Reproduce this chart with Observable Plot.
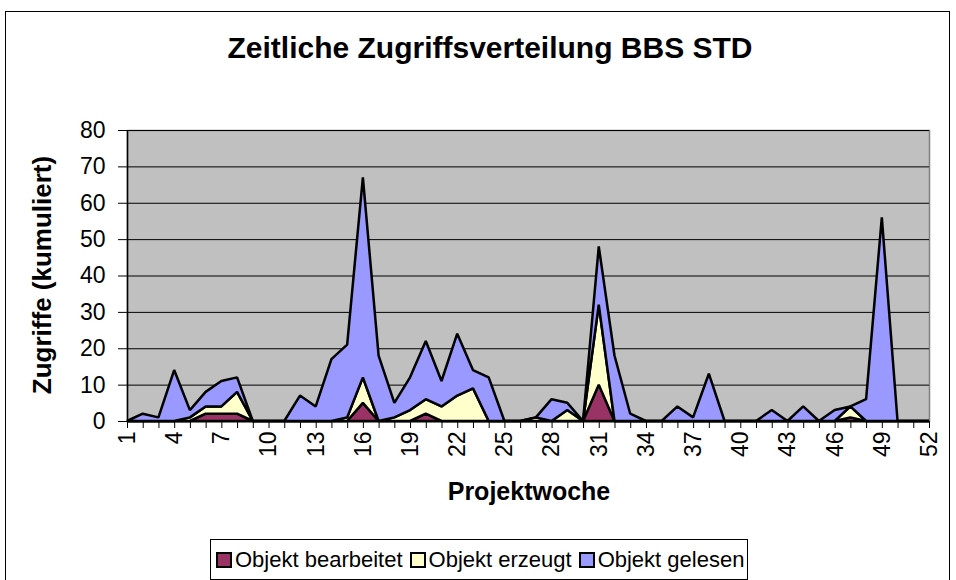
<!DOCTYPE html>
<html>
<head>
<meta charset="utf-8">
<script src="https://cdn.jsdelivr.net/npm/d3@7"></script>
<script src="https://cdn.jsdelivr.net/npm/@observablehq/plot@0.6"></script>
<style>
  html, body { margin: 0; padding: 0; background: #fff; }
  #chart { position: relative; width: 956px; height: 580px; overflow: hidden; font-family: "Liberation Sans", Arial, sans-serif; }
  #border { position: absolute; left: 5px; top: 11px; width: 945px; height: 600px; border: 1px solid #000; box-sizing: border-box; }
  #plot { position: absolute; left: 0; top: 0; }
  .title { position: absolute; left: 490px; top: 31px; transform: translateX(-50%); font-weight: bold; font-size: 30px; line-height: normal; white-space: nowrap; }
  .xtitle { position: absolute; left: 529px; top: 477px; transform: translateX(-50%); font-weight: bold; font-size: 25px; white-space: nowrap; }
  .ytitle { position: absolute; left: 42px; top: 275px; transform: translate(-50%, -50%) rotate(-90deg); font-weight: bold; font-size: 26px; white-space: nowrap; }
  #legend { position: absolute; left: 210px; top: 539px; width: 538px; height: 41px; border: 1px solid #000; box-sizing: border-box; display: flex; align-items: center; padding-left: 5px; font-size: 22px; white-space: nowrap; }
  .item { display: flex; align-items: center; margin-right: 7px; }
  .sw { width: 12px; height: 12px; border: 2px solid #000; margin-right: 3px; }
</style>
</head>
<body>
<div id="chart">
  <div id="border"></div>
  <div id="plot"></div>
  <div class="title">Zeitliche Zugriffsverteilung BBS STD</div>
  <div class="xtitle">Projektwoche</div>
  <div class="ytitle">Zugriffe (kumuliert)</div>
  <div id="legend"></div>
</div>
<script>
const weeks = d3.range(1, 53);
const seriesNames = ["Objekt bearbeitet", "Objekt erzeugt", "Objekt gelesen"];
const seriesColors = ["#993366", "#FFFFCC", "#9999FF"];
const bearbeitet = [0,0,0,0,0, 2,2,2, 0,0,0,0,0,0,0, 5, 0,0,0, 2, 0,0,0,0,0,0,0,0,0,0, 10, 0,0,0,0,0,0,0,0,0,0,0,0,0,0,0, 1, 0,0,0,0,0];
const erzeugt    = [0,0,0,0, 1,2,2,6, 0,0,0,0,0,0, 1,7,0,1,3,4,4,7,9, 0,0,0, 1,0,3,0,22, 0,0,0,0,0,0,0,0,0,0,0,0,0,0,0, 3, 0,0,0,0,0];
const gelesen    = [0,2,1,14,2,4,7,4,0,0,0,7,4,17,20,55,18,4,9,16,7,17,5,12,0,0,0,6,2,0,16,18,2,0,0,4,1,13,0,0,0,3,0,4,0,3,0,6,56,0,0,0];
const yTicks = [0,10,20,30,40,50,60,70,80];
const xTickLabels = [1,4,7,10,13,16,19,22,25,28,31,34,37,40,43,46,49,52];

const seriesValues = [bearbeitet, erzeugt, gelesen];
const data = [];
seriesNames.forEach((name, i) => {
  weeks.forEach((w, j) => data.push({week: w, series: name, value: seriesValues[i][j]}));
});

const chart = Plot.plot({
  width: 956,
  height: 580,
  marginLeft: 127,
  marginRight: 27,
  marginTop: 130,
  marginBottom: 159,
  style: {fontFamily: "'Liberation Sans', Arial, sans-serif", color: "#000", background: "transparent", overflow: "visible"},
  x: {domain: [1, 52]},
  y: {domain: [0, 80]},
  color: {domain: seriesNames, range: seriesColors},
  marks: [
    Plot.frame({fill: "#C0C0C0", stroke: "#808080", strokeWidth: 1.5}),
    Plot.gridY(yTicks, {stroke: "#000", strokeOpacity: 1, strokeWidth: 1}),
    Plot.areaY(data, {x: "week", y: "value", z: "series", fill: "series", order: seriesNames, stroke: "#000", strokeWidth: 2.5, strokeLinejoin: "miter"}),
    Plot.ruleX([1], {stroke: "#000", strokeWidth: 1.5}),
    Plot.ruleY([0], {stroke: "#000", strokeWidth: 1.5}),
    Plot.axisY({ticks: yTicks, tickSize: 9, tickPadding: 13, fontSize: 23, label: null, stroke: "#000"}),
    Plot.axisX({ticks: weeks, tickSize: 7, tickFormat: () => "", label: null}),
    Plot.axisX({ticks: xTickLabels, tickSize: 0, tickPadding: 10, tickRotate: -90, fontSize: 23, label: null})
  ]
});
document.getElementById("plot").appendChild(chart);

const legend = document.getElementById("legend");
seriesNames.forEach((name, i) => {
  const item = document.createElement("div");
  item.className = "item";
  const sw = document.createElement("div");
  sw.className = "sw";
  sw.style.background = seriesColors[i];
  item.appendChild(sw);
  const t = document.createElement("span");
  t.textContent = name;
  item.appendChild(t);
  legend.appendChild(item);
});
</script>
</body>
</html>
